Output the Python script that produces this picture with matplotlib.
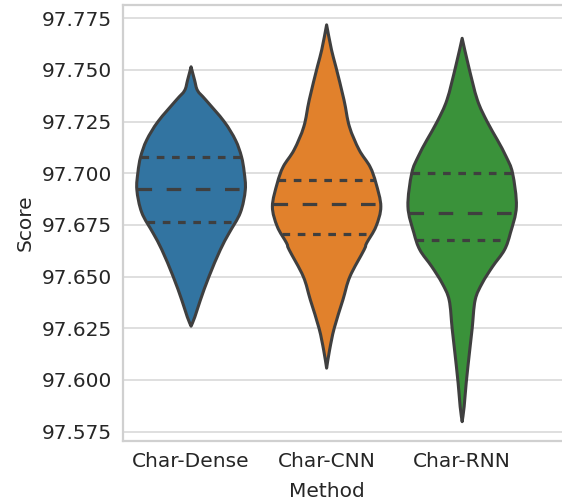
import numpy as np
import matplotlib
matplotlib.use('Agg')
import matplotlib.pyplot as plt
from matplotlib.path import Path
from matplotlib.patches import PathPatch

# violin profiles: score level -> relative density (1 = widest)
methods = ['Char-Dense', 'Char-CNN', 'Char-RNN']
colors = ['#3274a1', '#e1812c', '#3a923a']

dense_y = [97.7515, 97.745, 97.740, 97.7355, 97.725, 97.716, 97.708, 97.7005,
           97.692, 97.681, 97.671, 97.663, 97.650, 97.6385, 97.6305, 97.626]
dense_w = [0, .065, .12, .27, .61, .82, .93, .98, 1.0, .91, .70, .54, .33, .17, .07, 0]

cnn_y = [97.7718, 97.7597, 97.7516, 97.7355, 97.7226, 97.7113, 97.7032, 97.6952,
         97.6839, 97.6742, 97.6663, 97.6629, 97.650, 97.6387, 97.625, 97.6145, 97.6057]
cnn_w = [0, .09, .17, .32, .42, .60, .80, .91, 1.0, .91, .74, .69, .43, .30, .14, .055, 0]

rnn_y = [97.7653, 97.7516, 97.7355, 97.725, 97.7161, 97.7081, 97.700, 97.6839,
         97.6711, 97.6629, 97.6548, 97.6468, 97.6387, 97.625, 97.6145, 97.5984,
         97.5871, 97.5798]
rnn_w = [0, .12, .28, .46, .65, .81, .93, 1.0, .89, .78, .56, .37, .24, .185, .14,
         .074, .037, 0]

# quartiles (q1, median, q3)
dense_q = [97.6766, 97.6923, 97.7081]
cnn_q = [97.6705, 97.6852, 97.6968]
rnn_q = [97.6677, 97.6807, 97.700]

profiles = [(dense_y, dense_w, dense_q), (cnn_y, cnn_w, cnn_q), (rnn_y, rnn_w, rnn_q)]


def smooth_outline(pts):
    # catmull-rom through the points, as cubic bezier segments
    pts = np.asarray(pts, float)
    ext = np.vstack([pts[0], pts, pts[-1]])
    verts = [pts[0]]
    codes = [Path.MOVETO]
    for k in range(len(pts) - 1):
        p0, p1, p2, p3 = ext[k], ext[k + 1], ext[k + 2], ext[k + 3]
        verts += [p1 + (p2 - p0) / 6.0, p2 - (p3 - p1) / 6.0, p2]
        codes += [Path.CURVE4] * 3
    return verts, codes


plt.rcParams['lines.scale_dashes'] = False
plt.rcParams['font.family'] = 'DejaVu Sans'

fig = plt.figure(figsize=(5.62, 5.01), dpi=100)
ax = fig.add_axes([0.2194, 0.1204, 0.82, 0.8696])

edge = '#3f3f3f'
maxw = 0.4
for i, (ys, ws, qs) in enumerate(profiles):
    ys = np.array(ys)
    ws = np.array(ws) * maxw
    left = np.column_stack([i - ws, ys])
    right = np.column_stack([i + ws, ys])[::-1]
    v1, c1 = smooth_outline(left)
    v2, c2 = smooth_outline(right)
    verts = v1 + v2[1:] + [v1[0]]
    codes = c1 + c2[1:] + [Path.CLOSEPOLY]
    ax.add_patch(PathPatch(Path(verts, codes), facecolor=colors[i], edgecolor=edge,
                           linewidth=2.2, joinstyle='round', zorder=3))
    order = np.argsort(ys)
    for k, q in enumerate(qs):
        hw = np.interp(q, ys[order], ws[order])
        if k == 1:
            dash = (10.5, 10.5)
        else:
            dash = (5.5, 5.5)
        ax.plot([i - hw, i + hw], [q, q], color=edge, linewidth=2.3,
                dashes=dash, solid_capstyle='butt', dash_capstyle='butt', zorder=4)

ax.set_xlim(-0.5, 2.9)
ax.set_ylim(97.5706, 97.7814)
ax.set_xticks(range(3))
ax.set_xticklabels(methods)
ax.set_yticks([97.575, 97.6, 97.625, 97.65, 97.675, 97.7, 97.725, 97.75, 97.775])
ax.set_yticklabels(['97.575', '97.600', '97.625', '97.650', '97.675', '97.700',
                    '97.725', '97.750', '97.775'])
ax.grid(True, axis='y', color='#dcdcdc', linewidth=1.3, zorder=0)
ax.set_axisbelow(True)
for s in ax.spines.values():
    s.set_color('#d0d0d0')
    s.set_linewidth(1.6)
ax.tick_params(length=0, labelsize=14.5, colors='#262626', pad=8)
# label centred on the middle category, as in the (cropped) original
ax.set_xlabel('Method', fontsize=14.5, color='#262626', labelpad=8, x=1.5 / 3.4)
ax.set_ylabel('Score', fontsize=14.5, color='#262626', labelpad=5)

fig.savefig('out.png', dpi=100)
